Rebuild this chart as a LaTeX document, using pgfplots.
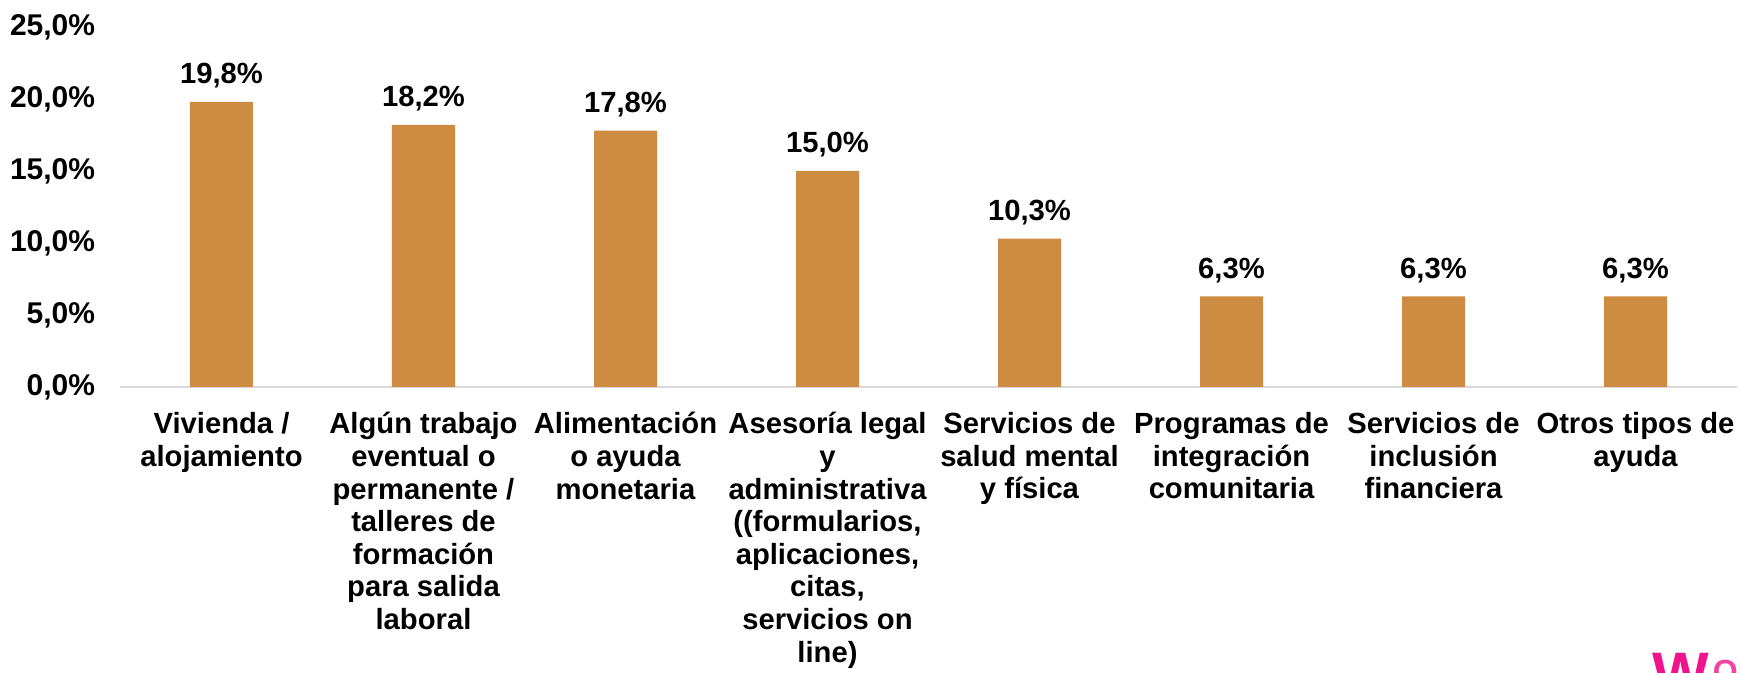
\documentclass[border=0pt]{standalone}
\usepackage{fontspec}
\setmainfont{Liberation Sans}
\usepackage{pgfplots}
\pgfplotsset{compat=1.18}
\definecolor{barcol}{RGB}{205,140,65}
\definecolor{axgray}{RGB}{217,217,217}
\definecolor{logopink}{RGB}{240,20,140}
\begin{document}
\begin{tikzpicture}
\useasboundingbox (-60.25pt,-143pt) rectangle (809.75pt,193.5pt);
\begin{axis}[
  at={(0,0)}, anchor=south west,
  scale only axis,
  width=808pt, height=180pt,
  ybar, bar width=31.5pt,
  xmin=-0.5, xmax=7.5, ymin=0, ymax=25,
  enlargelimits=false,
  axis x line*=bottom, axis y line*=left,
  x axis line style={draw=axgray, line width=1pt, -},
  y axis line style={draw=none},
  tick style={draw=none},
  xtick=data,
  ytick={0,5,10,15,20,25},
  /pgf/number format/assume math mode=true,
  yticklabel={\pgfmathprintnumber[fixed,fixed zerofill,precision=1,use comma]{\tick}\%},
  yticklabel style={font=\fontsize{15}{18}\selectfont\bfseries, inner sep=0pt, anchor=east, xshift=-12.5pt},
  xticklabels={{Vivienda /\\alojamiento},
    {Algún trabajo\\eventual o\\permanente /\\talleres de\\formación\\para salida\\laboral},
    {Alimentación\\o ayuda\\monetaria},
    {Asesoría legal\\y\\administrativa\\((formularios,\\aplicaciones,\\citas,\\servicios on\\line)},
    {Servicios de\\salud mental\\y física},
    {Programas de\\integración\\comunitaria},
    {Servicios de\\inclusión\\financiera},
    {Otros tipos de\\ayuda}},
  xticklabel style={font=\fontsize{14.6}{16.3}\selectfont\bfseries, align=center, anchor=north, inner sep=0pt, yshift=-8.3pt},
  nodes near coords={\pgfmathprintnumber[fixed,fixed zerofill,precision=1,use comma]{\pgfplotspointmeta}\%},
  nodes near coords style={font=\fontsize{14.6}{16.3}\selectfont\bfseries, anchor=base, inner sep=0pt, yshift=9pt},
  clip=false,
]
\addplot[fill=barcol, draw=none] coordinates {
  (0,19.8) (1,18.2) (2,17.8) (3,15.0) (4,10.3) (5,6.3) (6,6.3) (7,6.3)
};
\end{axis}
\node[anchor=north west, inner sep=0pt, text=logopink] at (765.75pt,-133pt) {\fontsize{30}{30}\selectfont\bfseries W};
\node[anchor=north west, inner sep=0pt, text=logopink!80] at (796pt,-136.5pt) {\fontsize{16}{16}\selectfont\bfseries OR};
\end{tikzpicture}
\end{document}
